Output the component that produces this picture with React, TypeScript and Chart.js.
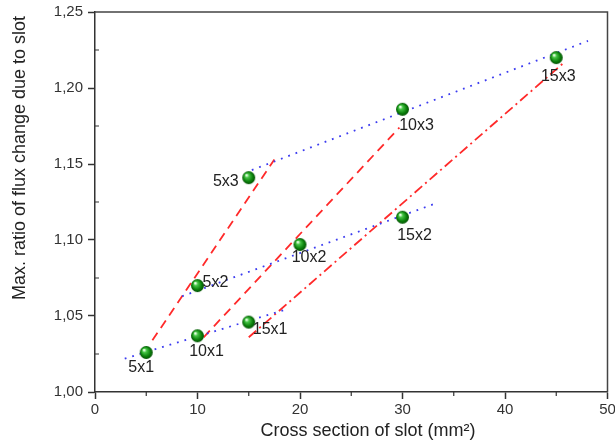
import React, { useEffect, useRef } from 'react';
import { Chart, registerables } from 'chart.js';

Chart.register(...registerables);

// ---- data ----
const slotSizes = ['5x1', '10x1', '15x1', '5x2', '10x2', '15x2', '5x3', '10x3', '15x3'];
const crossSection = [5, 10, 15, 10, 20, 30, 15, 30, 45];
const fluxRatio = [1.026, 1.037, 1.046, 1.07, 1.097, 1.115, 1.141, 1.186, 1.22];

// fitted trend lines (start / end points)
const row1FitX = [2.9, 18.5];
const row1FitY = [1.022, 1.054];
const row2FitX = [8.5, 33.2];
const row2FitY = [1.063, 1.124];
const row3FitX = [15.3, 48.1];
const row3FitY = [1.146, 1.231];
const width5FitX = [5.6, 17.5];
const width5FitY = [1.034, 1.153];
const width10FitX = [10.6, 29.7];
const width10FitY = [1.036, 1.174];
const width15FitX = [15.0, 45.8];
const width15FitY = [1.036, 1.217];

const xTickValues = [0, 10, 20, 30, 40, 50];
const yTickValues = [1.0, 1.05, 1.1, 1.15, 1.2, 1.25];
const xMinorTicks = [5, 15, 25, 35, 45];
const yMinorTicks = [1.025, 1.075, 1.125, 1.175, 1.225];

const xTitle = 'Cross section of slot (mm²)';
const yTitle = 'Max. ratio of flux change due to slot';

// ---- styles ----
const FONT = '"Liberation Sans", Arial, Helvetica, sans-serif';
const labelPlacement: Record<string, { dx: number; dy: number; align: CanvasTextAlign }> = {
  '5x1': { dx: -5, dy: 15, align: 'center' },
  '10x1': { dx: 9, dy: 16, align: 'center' },
  '15x1': { dx: 4, dy: 8, align: 'left' },
  '5x2': { dx: 5, dy: -3, align: 'left' },
  '10x2': { dx: 9, dy: 13, align: 'center' },
  '15x2': { dx: 12, dy: 18, align: 'center' },
  '5x3': { dx: -10, dy: 4, align: 'right' },
  '10x3': { dx: 14, dy: 16, align: 'center' },
  '15x3': { dx: 2, dy: 19, align: 'center' },
};

function makeSphere(r: number): HTMLCanvasElement {
  const s = r * 2 + 2;
  const c = document.createElement('canvas');
  c.width = s;
  c.height = s;
  const ctx = c.getContext('2d')!;
  const g = ctx.createRadialGradient(s / 2 - r * 0.35, s / 2 - r * 0.4, r * 0.1, s / 2, s / 2, r);
  g.addColorStop(0, '#e4ffe0');
  g.addColorStop(0.25, '#45c445');
  g.addColorStop(0.7, '#0b800b');
  g.addColorStop(1, '#045204');
  ctx.beginPath();
  ctx.arc(s / 2, s / 2, r, 0, Math.PI * 2);
  ctx.fillStyle = g;
  ctx.fill();
  return c;
}

const toPts = (xs: number[], ys: number[]) => xs.map((x, i) => ({ x, y: ys[i] }));

const decorPlugin = {
  id: 'decor',
  afterDatasetsDraw(chart: any) {
    const { ctx, chartArea } = chart;
    const xs = chart.scales.x;
    const ys = chart.scales.y;
    ctx.save();
    // frame top/right
    ctx.strokeStyle = '#444';
    ctx.lineWidth = 1.5;
    ctx.beginPath();
    ctx.moveTo(chartArea.left, chartArea.top);
    ctx.lineTo(chartArea.right, chartArea.top);
    ctx.lineTo(chartArea.right, chartArea.bottom);
    ctx.stroke();
    // minor ticks
    ctx.strokeStyle = '#333';
    ctx.lineWidth = 1.2;
    ctx.beginPath();
    xMinorTicks.forEach((v) => {
      const px = xs.getPixelForValue(v);
      ctx.moveTo(px, chartArea.bottom);
      ctx.lineTo(px, chartArea.bottom + 4);
    });
    yMinorTicks.forEach((v) => {
      const py = ys.getPixelForValue(v);
      ctx.moveTo(chartArea.left, py);
      ctx.lineTo(chartArea.left + 4, py);
    });
    ctx.stroke();
    // point labels
    ctx.fillStyle = '#222';
    ctx.font = `16px ${FONT}`;
    ctx.textBaseline = 'middle';
    slotSizes.forEach((lab, i) => {
      const p = labelPlacement[lab];
      const px = xs.getPixelForValue(crossSection[i]);
      const py = ys.getPixelForValue(fluxRatio[i]);
      ctx.textAlign = p.align;
      ctx.fillText(lab, px + p.dx, py + p.dy);
    });
    // axis titles
    ctx.fillStyle = '#222';
    ctx.font = `18px ${FONT}`;
    ctx.textAlign = 'center';
    ctx.textBaseline = 'middle';
    ctx.fillText(xTitle, 368, 431);
    ctx.save();
    ctx.translate(20, 158);
    ctx.rotate(-Math.PI / 2);
    ctx.fillText(yTitle, 0, 0);
    ctx.restore();
    ctx.restore();
  },
};

export default function App() {
  const ref = useRef<HTMLCanvasElement | null>(null);
  useEffect(() => {
    document.body.style.margin = '0';
    const sphere = makeSphere(6.5);
    const blue = '#3c3cf0';
    const red = '#ff2a2a';
    const lineDs = (xs: number[], ys: number[], color: string, dash: number[], width = 1.8) => ({
      type: 'line' as const,
      data: toPts(xs, ys),
      borderColor: color,
      borderWidth: width,
      borderDash: dash,
      pointRadius: 0,
      showLine: true,
      fill: false,
      tension: 0,
    });
    const chart = new Chart(ref.current!, {
      type: 'scatter',
      data: {
        datasets: [
          {
            label: 'points',
            data: toPts(crossSection, fluxRatio),
            pointStyle: sphere as any,
            pointRadius: 6.5,
            showLine: false,
          } as any,
          lineDs(row1FitX, row1FitY, blue, [1.8, 6]),
          lineDs(row2FitX, row2FitY, blue, [1.8, 6]),
          lineDs(row3FitX, row3FitY, blue, [1.8, 6]),
          lineDs(width5FitX, width5FitY, red, [9, 6]),
          lineDs(width10FitX, width10FitY, red, [9, 6]),
          lineDs(width15FitX, width15FitY, red, [10, 4, 2, 4]),
        ],
      },
      options: {
        responsive: false,
        animation: false,
        layout: { padding: { top: 12, right: 5, left: 0, bottom: 0 } },
        plugins: { legend: { display: false }, tooltip: { enabled: false } },
        scales: {
          x: {
            type: 'linear',
            min: 0,
            max: 50,
            afterBuildTicks: (s: any) => {
              s.ticks = xTickValues.map((v) => ({ value: v }));
            },
            afterFit: (s: any) => {
              s.height = 53;
              s.paddingLeft = 0;
              s.paddingRight = 0;
            },
            border: { display: true, color: '#333', width: 1.5 },
            grid: { drawOnChartArea: false, drawTicks: true, tickLength: 7, tickColor: '#333', tickWidth: 1.5 },
            ticks: { color: '#333', font: { family: FONT, size: 15 }, padding: 2, maxRotation: 0 },
          },
          y: {
            type: 'linear',
            min: 1.0,
            max: 1.25,
            afterBuildTicks: (s: any) => {
              s.ticks = yTickValues.map((v) => ({ value: v }));
            },
            afterFit: (s: any) => {
              s.width = 95;
              s.paddingTop = 0;
              s.paddingBottom = 0;
            },
            border: { display: true, color: '#333', width: 1.5 },
            grid: { drawOnChartArea: false, drawTicks: true, tickLength: 7, tickColor: '#333', tickWidth: 1.5 },
            ticks: {
              color: '#333',
              font: { family: FONT, size: 15 },
              padding: 5,
              callback: (v: any) => Number(v).toFixed(2).replace('.', ','),
            },
          },
        },
      },
      plugins: [decorPlugin],
    });
    return () => chart.destroy();
  }, []);
  return <canvas ref={ref} width={615} height={445} style={{ display: 'block' }} />;
}
